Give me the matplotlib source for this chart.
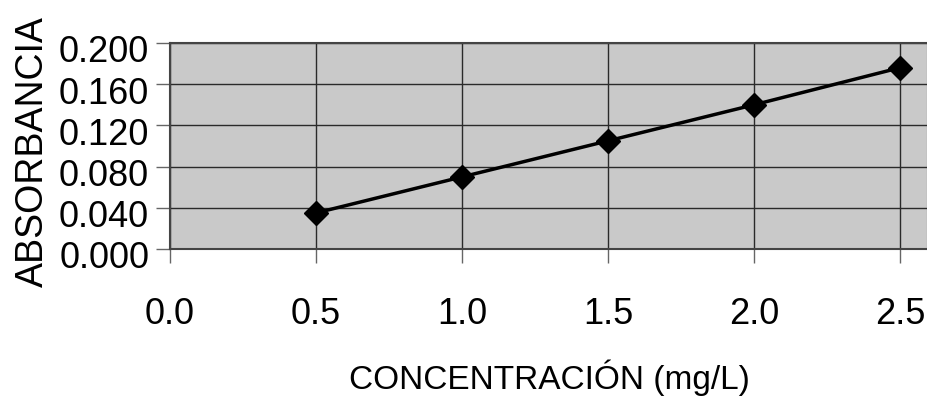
import matplotlib
matplotlib.use("Agg")
import matplotlib.pyplot as plt
import matplotlib.transforms as mtransforms

# Data
concentracion = [0.5, 1.0, 1.5, 2.0, 2.5]
absorbancia = [0.035, 0.070, 0.105, 0.140, 0.176]
x_ticks = [0.0, 0.5, 1.0, 1.5, 2.0, 2.5]
y_ticks = [0.000, 0.040, 0.080, 0.120, 0.160, 0.200]

plt.rcParams['font.family'] = ["Liberation Sans", 'DejaVu Sans']

fig = plt.figure(figsize=(9.28, 4.06), dpi=100)
ax = fig.add_axes([170/928, (406-250)/406, (928-170)/928, 206/406])
ax.set_facecolor("#c9c9c9")
ax.plot(concentracion, absorbancia, color="black", lw=2.5, marker="D",
        markersize=12, markerfacecolor="black", markeredgecolor="black", zorder=3)
ax.set_xlim(0, 758/292)
ax.set_ylim(0, 0.2)
ax.set_xticks(x_ticks)
ax.set_yticks(y_ticks)
ax.set_xticklabels([f"{v:.1f}" for v in x_ticks])
ax.set_yticklabels([f"{v:.3f}" for v in y_ticks])
ax.grid(True, color="#2a2a2a", lw=1.0)
ax.set_axisbelow(True)
for s in ax.spines.values():
    s.set_color("#444444")
    s.set_linewidth(1.5)
ax.tick_params(axis="x", length=10, width=1, color="#666666", pad=24, labelsize=26)
ax.tick_params(axis="y", length=10, width=1, color="#666666", pad=5, labelsize=26)
offset = mtransforms.ScaledTranslation(0, -5/100, fig.dpi_scale_trans)
for lab in ax.get_yticklabels():
    lab.set_transform(lab.get_transform() + offset)
ax.set_xlabel("CONCENTRACIÓN (mg/L)", fontsize=24)
ax.xaxis.set_label_coords(0.5, -(378-250)/206, transform=ax.transAxes)
ax.xaxis.label.set_va("center")
ax.set_ylabel("ABSORBANCIA", fontsize=27)
ax.yaxis.set_label_coords(-(170-33)/758, (250-152)/206, transform=ax.transAxes)
ax.yaxis.label.set_va("center")
fig.savefig("out.png", dpi=100)
